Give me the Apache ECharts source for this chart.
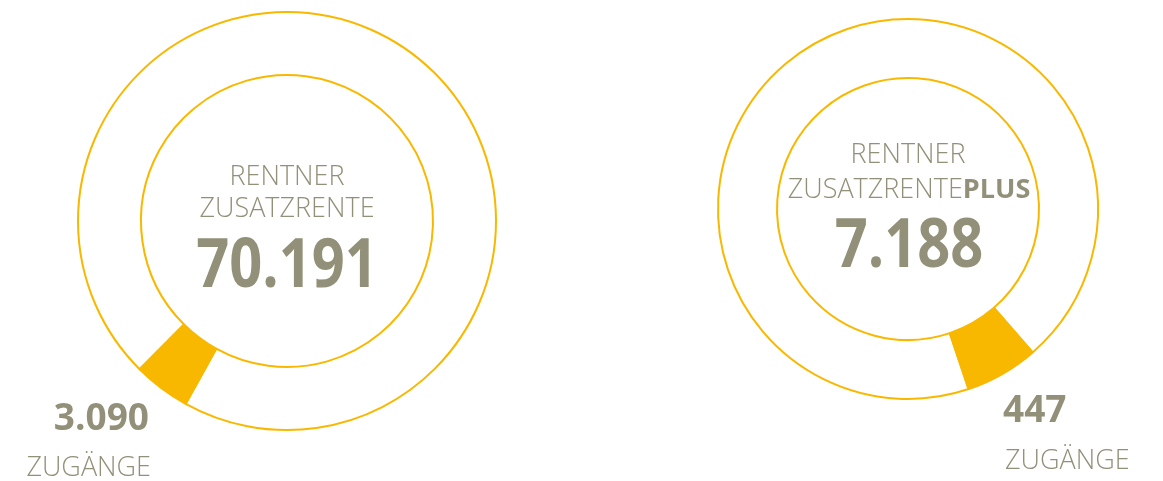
<!DOCTYPE html>
<html>
<head>
<meta charset="utf-8">
<script src="https://cdn.jsdelivr.net/npm/echarts@6/dist/echarts.min.js"></script>
<style>
  html, body { margin: 0; padding: 0; background: #fff; }
  #chart { width: 1163px; height: 481px; }
</style>
</head>
<body>
<div id="chart"></div>
<script>
const groupNames = ["ZUSATZRENTE", "ZUSATZRENTEPLUS"];
const totals = [70191, 7188];
const newcomers = [3090, 447];
const newcomerLabel = "ZUGÄNGE";

const YELLOW = "#f9b800";
const GREY = "#939079";
const FONT = "'Open Sans', 'Noto Sans', sans-serif";

// layout per ring
const rings = [
  { cx: 287, cy: 221, r: [146, 209], start: 241 },
  { cx: 908, cy: 209, r: [131, 190], start: -49 },
];

const fmt = (v) => String(v).replace(/\B(?=(\d{3})+(?!\d))/g, ".");

const chart = echarts.init(document.getElementById("chart"), null, { renderer: "canvas" });

const series = rings.map((g, i) => ({
  type: "pie",
  center: [g.cx, g.cy],
  radius: g.r,
  startAngle: g.start,
  clockwise: true,
  silent: true,
  animation: false,
  label: { show: false },
  labelLine: { show: false },
  data: [
    { name: newcomerLabel, value: newcomers[i], itemStyle: { color: YELLOW, borderColor: YELLOW, borderWidth: 2 } },
    { name: groupNames[i], value: totals[i] - newcomers[i], itemStyle: { color: "rgba(0,0,0,0)", borderColor: YELLOW, borderWidth: 2 } },
  ],
}));

const txt = (x, y, text, size, weight, align, sx) => ({
  type: "text",
  x: x,
  y: y,
  scaleX: sx || 1,
  silent: true,
  style: {
    text: text,
    fill: GREY,
    font: weight + " " + size + "px " + FONT,
    textAlign: align || "center",
    textVerticalAlign: "middle",
  },
});

const graphic = [
  // left ring
  txt(287, 177, "RENTNER", 27, 300),
  txt(287, 209, groupNames[0], 27, 300),
  txt(287, 268, fmt(totals[0]), 68, 700, "center", 0.85),
  txt(149, 419, fmt(newcomers[0]), 37, 700, "right"),
  txt(151, 468, newcomerLabel, 27, 300, "right"),
  // right ring
  txt(908, 155, "RENTNER", 27, 300),
  {
    type: "text",
    x: 909,
    y: 190,
    silent: true,
    style: {
      text: "{a|ZUSATZRENTE}{b|PLUS}",
      textAlign: "center",
      textVerticalAlign: "middle",
      rich: {
        a: { fill: GREY, color: GREY, fontFamily: FONT, fontSize: 27, fontWeight: 300 },
        b: { fill: GREY, color: GREY, fontFamily: FONT, fontSize: 27, fontWeight: 700 },
      },
    },
  },
  txt(909, 248, fmt(totals[1]), 68, 700, "center", 0.85),
  txt(1003, 411, fmt(newcomers[1]), 37, 700, "left"),
  txt(1005, 461, newcomerLabel, 27, 300, "left"),
];

chart.setOption({
  backgroundColor: "#fff",
  animation: false,
  series: series,
  graphic: graphic,
});
</script>
</body>
</html>
